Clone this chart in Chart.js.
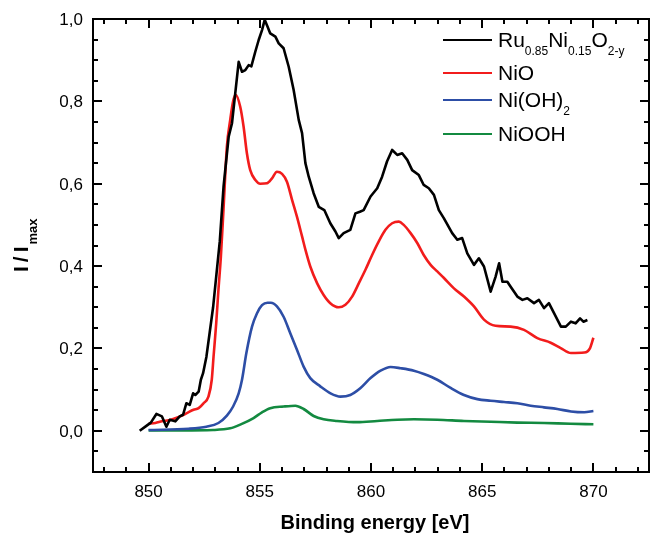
<!DOCTYPE html>
<html>
<head>
<meta charset="utf-8">
<script src="https://cdn.jsdelivr.net/npm/chart.js@4.4.0/dist/chart.umd.min.js"></script>
<style>
  html, body { margin: 0; padding: 0; background: #fff; }
  #wrap { width: 650px; height: 533px; }
</style>
</head>
<body>
<div id="wrap"><canvas id="xpsChart" width="650" height="533"></canvas></div>
<script>
// Ni 2p3/2 spectra, intensity normalised to the maximum
const ruNiEnergy = [849.6, 849.9, 850.1, 850.35, 850.6, 850.8, 850.95, 851.2, 851.4, 851.55, 851.7, 851.85, 852.0, 852.1, 852.25, 852.35, 852.45, 852.6, 852.75, 852.9, 853.05, 853.2, 853.37, 853.6, 853.75, 854.05, 854.2, 854.35, 854.5, 854.62, 854.8, 854.95, 855.1, 855.22, 855.35, 855.47, 855.7, 855.85, 856.07, 856.3, 856.52, 856.75, 856.9, 857.05, 857.2, 857.42, 857.65, 857.9, 858.17, 858.4, 858.55, 858.77, 859.07, 859.3, 859.5, 859.67, 859.98, 860.28, 860.5, 860.72, 860.95, 861.18, 861.4, 861.63, 861.85, 862.15, 862.37, 862.6, 862.83, 863.05, 863.28, 863.65, 863.88, 864.1, 864.33, 864.63, 864.85, 865.08, 865.38, 865.6, 865.76, 865.91, 866.13, 866.28, 866.58, 866.81, 867.03, 867.33, 867.55, 867.78, 868.0, 868.23, 868.54, 868.76, 868.99, 869.2, 869.4, 869.55, 869.73];
const ruNiIntensity = [0.000, 0.012, 0.020, 0.041, 0.035, 0.010, 0.027, 0.023, 0.035, 0.039, 0.067, 0.063, 0.091, 0.087, 0.095, 0.124, 0.140, 0.180, 0.240, 0.300, 0.380, 0.460, 0.593, 0.714, 0.747, 0.896, 0.872, 0.876, 0.888, 0.885, 0.921, 0.949, 0.973, 0.998, 0.981, 0.965, 0.957, 0.941, 0.929, 0.884, 0.828, 0.755, 0.723, 0.650, 0.617, 0.577, 0.544, 0.536, 0.504, 0.484, 0.468, 0.480, 0.488, 0.528, 0.532, 0.536, 0.569, 0.589, 0.617, 0.654, 0.682, 0.670, 0.674, 0.658, 0.633, 0.621, 0.597, 0.589, 0.573, 0.536, 0.516, 0.480, 0.464, 0.468, 0.431, 0.403, 0.419, 0.399, 0.338, 0.374, 0.407, 0.362, 0.362, 0.350, 0.326, 0.318, 0.322, 0.310, 0.318, 0.298, 0.310, 0.286, 0.253, 0.253, 0.265, 0.261, 0.273, 0.265, 0.269];

const nioEnergy = [850.0, 850.3, 850.6, 851.0, 851.42, 851.72, 852.02, 852.25, 852.47, 852.69, 852.84, 852.92, 853.04, 853.14, 853.25, 853.37, 853.52, 853.67, 853.8, 853.91, 854.12, 854.27, 854.42, 854.57, 854.8, 855.02, 855.32, 855.55, 855.77, 856.0, 856.22, 856.45, 856.67, 856.9, 857.05, 857.27, 857.58, 857.87, 858.17, 858.55, 858.85, 859.15, 859.45, 859.75, 860.05, 860.35, 860.65, 860.95, 861.25, 861.47, 861.78, 862.08, 862.37, 862.68, 862.98, 863.28, 863.73, 864.18, 864.63, 865.08, 865.6, 866.28, 866.88, 867.48, 868.08, 868.53, 868.99, 869.59, 869.85, 870.0];
const nioIntensity = [0.017, 0.019, 0.023, 0.027, 0.035, 0.043, 0.051, 0.055, 0.067, 0.083, 0.124, 0.180, 0.261, 0.342, 0.423, 0.540, 0.690, 0.755, 0.800, 0.816, 0.787, 0.739, 0.674, 0.633, 0.609, 0.600, 0.601, 0.613, 0.629, 0.624, 0.605, 0.561, 0.520, 0.472, 0.440, 0.399, 0.358, 0.330, 0.310, 0.300, 0.306, 0.326, 0.358, 0.391, 0.427, 0.460, 0.488, 0.504, 0.508, 0.500, 0.480, 0.456, 0.427, 0.403, 0.387, 0.371, 0.346, 0.326, 0.302, 0.270, 0.255, 0.253, 0.245, 0.225, 0.214, 0.201, 0.189, 0.190, 0.201, 0.226];

const niOH2Energy = [850.0, 851.8, 852.6, 853.14, 853.52, 853.8, 854.05, 854.2, 854.4, 854.65, 854.87, 855.1, 855.35, 855.5, 855.77, 856.07, 856.37, 856.67, 856.97, 857.27, 857.72, 858.18, 858.63, 859.07, 859.53, 859.98, 860.43, 860.88, 861.33, 861.93, 862.38, 862.98, 863.58, 864.18, 864.78, 865.38, 865.98, 866.58, 867.18, 867.78, 868.38, 868.99, 869.59, 870.0];
const niOH2Intensity = [0.002, 0.005, 0.010, 0.019, 0.037, 0.059, 0.091, 0.124, 0.190, 0.253, 0.285, 0.305, 0.311, 0.311, 0.302, 0.277, 0.237, 0.197, 0.156, 0.128, 0.108, 0.091, 0.083, 0.087, 0.104, 0.128, 0.146, 0.155, 0.152, 0.146, 0.138, 0.124, 0.104, 0.087, 0.077, 0.073, 0.070, 0.067, 0.061, 0.057, 0.053, 0.047, 0.045, 0.048];

const niOOHEnergy = [850.0, 851.5, 852.9, 853.67, 854.12, 854.72, 855.1, 855.47, 856.07, 856.6, 856.97, 857.42, 857.87, 858.47, 859.38, 860.28, 861.18, 861.93, 862.98, 864.18, 865.38, 866.58, 867.78, 868.98, 870.0];
const niOOHIntensity = [0.001, 0.001, 0.002, 0.006, 0.015, 0.031, 0.045, 0.055, 0.059, 0.061, 0.053, 0.036, 0.028, 0.024, 0.021, 0.024, 0.027, 0.028, 0.027, 0.024, 0.022, 0.020, 0.019, 0.017, 0.016];

const xTickValues = [850, 855, 860, 865, 870];
const yTickValues = [0.0, 0.2, 0.4, 0.6, 0.8, 1.0];

const FONT = "'Liberation Sans', Arial, Helvetica, sans-serif";
const toPoints = (xs, ys) => xs.map((x, i) => ({ x: x, y: ys[i] }));

// legend rows: text pieces, the second flag marks a subscript
const legendRows = [
  { color: '#000000', y: 40, parts: [['Ru'], ['0.85', true], ['Ni'], ['0.15', true], ['O'], ['2-y', true]] },
  { color: '#f21c1c', y: 73, parts: [['NiO']] },
  { color: '#2d4ea6', y: 100, parts: [['Ni(OH)'], ['2', true]] },
  { color: '#138a40', y: 134, parts: [['NiOOH']] }
];

function drawParts(ctx, parts, x, baseline, size, subSize, subDrop) {
  parts.forEach(([txt, sub]) => {
    ctx.font = (sub ? subSize : size) + 'px ' + FONT;
    ctx.fillText(txt, x, baseline + (sub ? subDrop : 0));
    x += ctx.measureText(txt).width;
  });
}

// boxed frame with inward ticks on all four sides, labels, titles and legend
const frameAndLabels = {
  id: 'frameAndLabels',
  afterDatasetsDraw(chart) {
    const { ctx, chartArea: a, scales } = chart;
    const xs = scales.x, ys = scales.y;
    ctx.save();
    ctx.strokeStyle = '#000';
    ctx.fillStyle = '#000';
    ctx.lineWidth = 2;
    ctx.strokeRect(a.left, a.top, a.right - a.left, a.bottom - a.top);

    ctx.beginPath();
    for (let e = Math.ceil(xs.min); e <= xs.max; e++) {
      const px = Math.round(xs.getPixelForValue(e));
      const len = e % 5 === 0 ? 9 : 5;
      ctx.moveTo(px, a.bottom); ctx.lineTo(px, a.bottom - len);
      ctx.moveTo(px, a.top); ctx.lineTo(px, a.top + len);
    }
    for (let k = Math.ceil(ys.min / 0.05 - 1e-6); k * 0.05 <= ys.max + 1e-6; k++) {
      const py = Math.round(ys.getPixelForValue(k * 0.05));
      const len = k % 4 === 0 ? 9 : 5;
      ctx.moveTo(a.left, py); ctx.lineTo(a.left + len, py);
      ctx.moveTo(a.right, py); ctx.lineTo(a.right - len, py);
    }
    ctx.stroke();

    // tick labels use a decimal comma
    ctx.font = '17px ' + FONT;
    ctx.textAlign = 'center';
    xTickValues.forEach(v => ctx.fillText(String(v), xs.getPixelForValue(v), a.bottom + 25));
    ctx.textAlign = 'right';
    yTickValues.forEach(v => ctx.fillText(v.toFixed(1).replace('.', ','), a.left - 10, ys.getPixelForValue(v) + 6));

    // axis titles
    ctx.textAlign = 'center';
    ctx.font = 'bold 20px ' + FONT;
    ctx.fillText('Binding energy [eV]', (a.left + a.right) / 2 + 4, 529);

    ctx.save();
    ctx.translate(28, 272);
    ctx.rotate(-Math.PI / 2);
    ctx.textAlign = 'left';
    ctx.font = 'bold 21px ' + FONT;
    ctx.letterSpacing = '4px';
    ctx.fillText('I/I', 0, 0);
    const w = ctx.measureText('I/I').width;
    ctx.letterSpacing = '0px';
    ctx.font = 'bold 13px ' + FONT;
    ctx.fillText('max', w - 2, 9);
    ctx.restore();

    // legend
    ctx.textAlign = 'left';
    legendRows.forEach(row => {
      ctx.strokeStyle = row.color;
      ctx.lineWidth = 2;
      ctx.beginPath();
      ctx.moveTo(443, row.y); ctx.lineTo(492, row.y);
      ctx.stroke();
      ctx.fillStyle = '#000';
      drawParts(ctx, row.parts, 498, row.y + 7, 21, 12, 8);
    });
    ctx.restore();
  }
};

const ctxXps = document.getElementById('xpsChart').getContext('2d');
const xpsChart = new Chart(ctxXps, {
  type: 'line',
  data: {
    datasets: [{
      label: 'Ru0.85Ni0.15O2-y',
      data: toPoints(ruNiEnergy, ruNiIntensity),
      borderColor: '#000000',
      borderWidth: 2.6,
      tension: 0,
    }, {
      label: 'NiO',
      data: toPoints(nioEnergy, nioIntensity),
      borderColor: '#f21c1c',
      borderWidth: 2.6,
      cubicInterpolationMode: 'monotone',
    }, {
      label: 'Ni(OH)2',
      data: toPoints(niOH2Energy, niOH2Intensity),
      borderColor: '#2d4ea6',
      borderWidth: 2.6,
      cubicInterpolationMode: 'monotone',
    }, {
      label: 'NiOOH',
      data: toPoints(niOOHEnergy, niOOHIntensity),
      borderColor: '#138a40',
      borderWidth: 2.6,
      cubicInterpolationMode: 'monotone',
    }]
  },
  options: {
    responsive: false,
    animation: false,
    layout: {
      padding: { left: 93, top: 19, right: 1, bottom: 61 }
    },
    elements: {
      point: { radius: 0 },
      line: { borderJoinStyle: 'round', fill: false }
    },
    scales: {
      x: { type: 'linear', min: 847.5, max: 872.5, display: false },
      y: { type: 'linear', min: -0.1, max: 1.0, display: false }
    },
    plugins: {
      legend: { display: false },
      tooltip: { enabled: false }
    }
  },
  plugins: [frameAndLabels]
});
</script>
</body>
</html>
